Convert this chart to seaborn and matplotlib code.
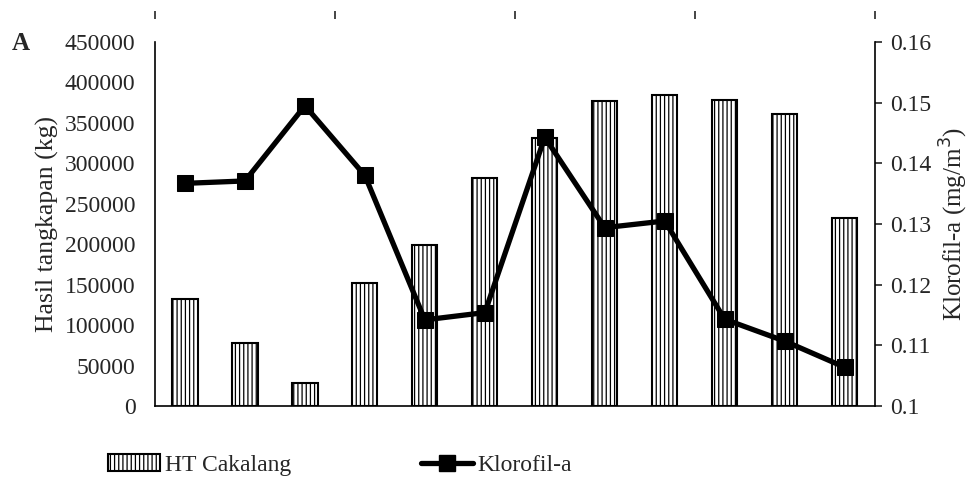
import numpy as np
import pandas as pd
import seaborn as sns
import matplotlib.pyplot as plt
from matplotlib.lines import Line2D
from matplotlib.patches import Patch

# monthly values
months = ["1", "2", "3", "4", "5", "6", "7", "8", "9", "10", "11", "12"]
catch_kg = [132000, 78000, 28000, 152000, 199000, 282000,
            331000, 377000, 385000, 378000, 361000, 233000]
chl_a = [0.1367, 0.1371, 0.1495, 0.1380, 0.1142, 0.1154,
         0.1443, 0.1294, 0.1305, 0.1143, 0.1107, 0.1064]

df = pd.DataFrame({"month": months, "catch": catch_kg, "chl": chl_a})

sns.set_style("white")
plt.rcParams["font.family"] = ["Liberation Serif", "DejaVu Serif"]
plt.rcParams["hatch.linewidth"] = 0.9

fig = plt.figure(figsize=(9.75, 4.78), dpi=100)
ax = fig.add_axes([0.159, 0.1506, 0.738, 0.7615])

sns.barplot(data=df, x="month", y="catch", ax=ax, color="white",
            edgecolor="black", linewidth=1.5, width=0.42)
for p in ax.patches:
    p.set_hatch("||||")

ax.set_ylim(0, 450000)
ax.set_xlim(-0.5, len(months) - 0.5)
ax.set_yticks(np.arange(0, 450001, 50000))
ax.tick_params(axis="y", labelsize=17, length=0, pad=14)
ax.tick_params(axis="x", length=0, labelbottom=False)
ax.set_xlabel("")
ax.set_ylabel("Hasil tangkapan (kg)", fontsize=18.5, labelpad=4)
for s in ["top", "right"]:
    ax.spines[s].set_visible(False)
for s in ["left", "bottom"]:
    ax.spines[s].set_linewidth(1.2)
    ax.spines[s].set_color("black")

ax2 = ax.twinx()
sns.lineplot(data=df, x="month", y="chl", ax=ax2, color="black",
             linewidth=3.8, marker="s", markersize=11,
             markeredgecolor="black", sort=False)
ax2.set_ylim(0.1, 0.16)
ax2.set_yticks([0.1, 0.11, 0.12, 0.13, 0.14, 0.15, 0.16])
ax2.set_yticklabels(["0.1", "0.11", "0.12", "0.13", "0.14", "0.15", "0.16"])
ax2.tick_params(axis="y", labelsize=17, length=5, width=1.2, direction="out",
                pad=6, right=True)
ax2.set_xlabel("")
ax2.set_ylabel("Klorofil-a (mg/m$^3$)", fontsize=18, labelpad=5)
for s in ["top", "left", "bottom"]:
    ax2.spines[s].set_visible(False)
ax2.spines["right"].set_visible(True)
ax2.spines["right"].set_linewidth(1.2)
ax2.spines["right"].set_color("black")

# stray top tick marks every three months
sec = ax.secondary_xaxis(1.063)
sec.set_xticks([-0.5, 2.5, 5.5, 8.5, 11.5])
sec.set_xticklabels([])
sec.tick_params(axis="x", length=6, width=1.2, direction="out")
sec.spines["top"].set_visible(False)

fig.text(0.012, 0.91, "A", fontsize=18, fontweight="bold", va="center")

handles = [
    Patch(facecolor="white", edgecolor="black", hatch="||||", linewidth=1.5),
    Line2D([0], [0], color="black", linewidth=3.8, marker="s", markersize=11),
]
fig.legend(handles, ["HT Cakalang", "Klorofil-a"], loc="center",
           bbox_to_anchor=(0.349, 0.027), ncol=2, frameon=False, fontsize=17,
           handlelength=2.2, handletextpad=0.2, columnspacing=5.5)

fig.savefig("out.png", dpi=100)
